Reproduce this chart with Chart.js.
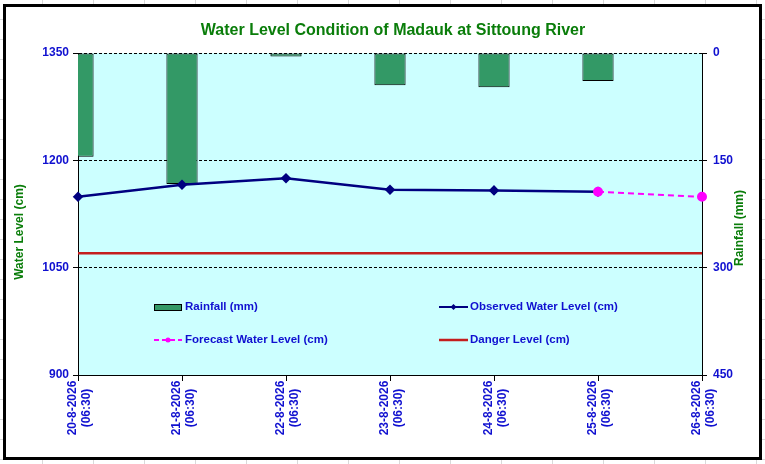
<!DOCTYPE html>
<html>
<head>
<meta charset="utf-8">
<script src="https://cdn.jsdelivr.net/npm/chart.js@4.4.1/dist/chart.umd.min.js"></script>
<style>
  html, body { margin: 0; padding: 0; background: #fff; }
  body {
    width: 765px; height: 464px; position: relative; overflow: hidden;
    background-image:
      repeating-linear-gradient(to right, transparent 0, transparent 42px, #d9d9d9 42px, #d9d9d9 43px, transparent 43px, transparent 51px),
      repeating-linear-gradient(to bottom, transparent 0, transparent 19px, #d9d9d9 19px, #d9d9d9 20px);
  }
  #frame {
    position: absolute; left: 3px; top: 4px; width: 753px; height: 450px;
    border: 3px solid #000; background: #fff;
  }
  #chart { position: absolute; left: 0; top: 0; }
</style>
</head>
<body>
<div id="frame"></div>
<canvas id="chart" width="765" height="464"></canvas>
<script>
// chart data
const dates = ["20-8-2026", "21-8-2026", "22-8-2026", "23-8-2026", "24-8-2026", "25-8-2026", "26-8-2026"];
const timeOfDay = "(06:30)";
const rainfallMm = [145, 183, 5, 45, 48, 39, null];
const observedLevel = [1149, 1166, 1175, 1159, 1158, 1156, null];
const forecastLevel = [null, null, null, null, null, 1156, 1149];
const dangerLevel = [1070, 1070, 1070, 1070, 1070, 1070, 1070];
const levelTicks = [900, 1050, 1200, 1350];
const rainTicks = [0, 150, 300, 450];

const FONT = "'Liberation Sans', Arial, sans-serif";
const BLUE = "#1010d0";
const GREEN = "#0a7d0a";
const BAR_GREEN = "#339966";
const NAVY = "#000080";
const MAGENTA = "#ff00ff";
const DANGER = "#c41e1e";

Chart.defaults.font.family = FONT;

const decorations = {
  id: "decorations",
  beforeDraw(chart) {
    const { ctx, chartArea: a } = chart;
    ctx.save();
    ctx.fillStyle = "#ccffff";
    ctx.fillRect(a.left, a.top, a.right - a.left, a.bottom - a.top);
    ctx.restore();
  },
  afterDraw(chart) {
    const { ctx, chartArea: a } = chart;
    const xScale = chart.scales.x;
    ctx.save();

    // title
    ctx.fillStyle = GREEN;
    ctx.font = "bold 16px " + FONT;
    ctx.textAlign = "center";
    ctx.textBaseline = "middle";
    ctx.fillText("Water Level Condition of Madauk at Sittoung River", (a.left + a.right) / 2 + 3, 31);

    // axis titles
    ctx.font = "bold 12px " + FONT;
    ctx.save();
    ctx.translate(20, 232);
    ctx.rotate(-Math.PI / 2);
    ctx.fillText("Water Level (cm)", 0, 0);
    ctx.restore();
    ctx.save();
    ctx.translate(740, 228);
    ctx.rotate(-Math.PI / 2);
    ctx.fillText("Rainfall (mm)", 0, 0);
    ctx.restore();

    // x tick labels, two lines, rotated
    ctx.fillStyle = BLUE;
    dates.forEach((d, i) => {
      const x = xScale.getPixelForTick(i);
      ctx.save();
      ctx.translate(x, a.bottom + 33);
      ctx.rotate(-Math.PI / 2);
      ctx.fillText(d, 0, -5);
      ctx.fillText(timeOfDay, 0, 9);
      ctx.restore();
    });

    // legend inside the plot
    const c1 = a.left + 76, c2 = a.left + 361;
    const r1 = a.top + 254, r2 = a.top + 287;
    ctx.font = "bold 11.5px " + FONT;
    ctx.textAlign = "left";
    ctx.fillStyle = BLUE;
    ctx.fillText("Rainfall (mm)", c1 + 31, r1);
    ctx.fillText("Forecast Water Level (cm)", c1 + 31, r2);
    ctx.fillText("Observed Water Level (cm)", c2 + 31, r1);
    ctx.fillText("Danger Level (cm)", c2 + 31, r2);

    ctx.fillStyle = BAR_GREEN;
    ctx.strokeStyle = "#000";
    ctx.lineWidth = 1;
    ctx.fillRect(c1, r1 - 3, 27, 6);
    ctx.strokeRect(c1 + 0.5, r1 - 2.5, 27, 6);

    ctx.strokeStyle = MAGENTA;
    ctx.lineWidth = 2;
    ctx.setLineDash([5, 3]);
    ctx.beginPath();
    ctx.moveTo(c1, r2); ctx.lineTo(c1 + 28, r2);
    ctx.stroke();
    ctx.setLineDash([]);
    ctx.fillStyle = MAGENTA;
    ctx.beginPath();
    ctx.arc(c1 + 14, r2, 2.5, 0, Math.PI * 2);
    ctx.fill();

    ctx.strokeStyle = NAVY;
    ctx.lineWidth = 2;
    ctx.beginPath();
    ctx.moveTo(c2, r1); ctx.lineTo(c2 + 29, r1);
    ctx.stroke();
    ctx.fillStyle = NAVY;
    ctx.beginPath();
    ctx.moveTo(c2 + 14.5, r1 - 3); ctx.lineTo(c2 + 17.5, r1);
    ctx.lineTo(c2 + 14.5, r1 + 3); ctx.lineTo(c2 + 11.5, r1);
    ctx.closePath();
    ctx.fill();

    ctx.strokeStyle = DANGER;
    ctx.lineWidth = 2.5;
    ctx.beginPath();
    ctx.moveTo(c2, r2); ctx.lineTo(c2 + 29, r2);
    ctx.stroke();

    ctx.restore();
  }
};

new Chart(document.getElementById("chart"), {
  type: "bar",
  data: {
    labels: dates,
    datasets: [
      {
        type: "line",
        label: "Observed Water Level (cm)",
        data: observedLevel,
        yAxisID: "y",
        borderColor: NAVY,
        backgroundColor: NAVY,
        borderWidth: 2.5,
        pointStyle: "rectRot",
        pointRadius: 3.5,
        tension: 0,
        order: 2
      },
      {
        type: "line",
        label: "Forecast Water Level (cm)",
        data: forecastLevel,
        yAxisID: "y",
        borderColor: MAGENTA,
        backgroundColor: MAGENTA,
        borderWidth: 2,
        borderDash: [6, 4],
        pointStyle: "circle",
        pointRadius: 4,
        tension: 0,
        order: 1
      },
      {
        type: "line",
        label: "Danger Level (cm)",
        data: dangerLevel,
        yAxisID: "y",
        borderColor: DANGER,
        borderWidth: 2.5,
        pointRadius: 0,
        tension: 0,
        order: 3
      },
      {
        type: "bar",
        label: "Rainfall (mm)",
        data: rainfallMm,
        yAxisID: "y1",
        backgroundColor: BAR_GREEN,
        borderColor: "#000",
        borderWidth: 1,
        borderSkipped: false,
        barPercentage: 0.3,
        categoryPercentage: 1,
        clip: 0,
        order: 4
      }
    ]
  },
  options: {
    responsive: false,
    animation: false,
    layout: { padding: { top: 53, left: 0, right: 0, bottom: 0 } },
    plugins: {
      legend: { display: false },
      title: { display: false },
      tooltip: { enabled: false }
    },
    scales: {
      x: {
        type: "category",
        offset: false,
        grid: { display: true, offset: false, drawOnChartArea: false, color: "#000", tickLength: 6 },
        border: { color: "#000", width: 1 },
        ticks: { display: false },
        afterFit: (s) => { s.height = 89; }
      },
      y: {
        position: "left",
        min: 900,
        max: 1350,
        afterBuildTicks: (s) => { s.ticks = levelTicks.map((v) => ({ value: v })); },
        grid: { color: "#000", lineWidth: 1, tickLength: 5 },
        border: { color: "#000", width: 1, dash: [3, 2] },
        ticks: { color: BLUE, font: { size: 12, weight: "bold" }, padding: 4, callback: (v) => String(v) },
        afterFit: (s) => { s.width = 78; }
      },
      y1: {
        position: "right",
        reverse: true,
        min: 0,
        max: 450,
        afterBuildTicks: (s) => { s.ticks = rainTicks.map((v) => ({ value: v })); },
        grid: { drawOnChartArea: false, color: "#000", tickLength: 5 },
        border: { color: "#000", width: 1 },
        ticks: { color: BLUE, font: { size: 12, weight: "bold" }, padding: 6, callback: (v) => String(v) },
        afterFit: (s) => { s.width = 63; }
      }
    }
  },
  plugins: [decorations]
});
</script>
</body>
</html>
